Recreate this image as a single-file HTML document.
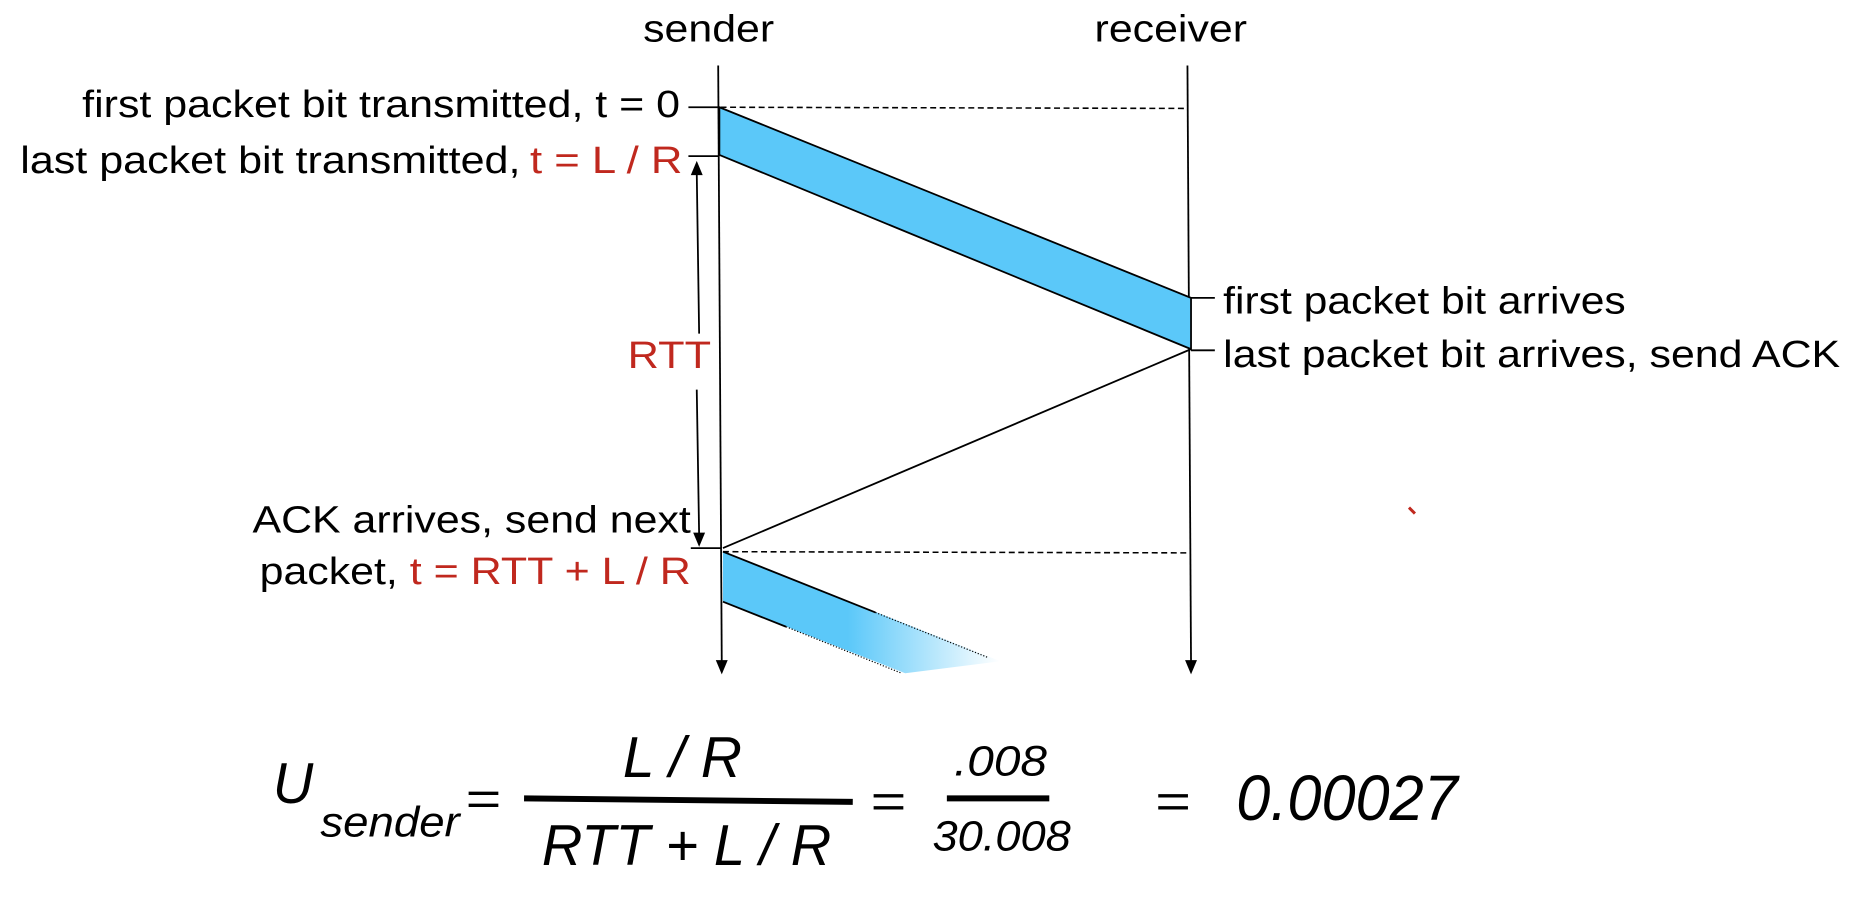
<!DOCTYPE html>
<html><head><meta charset="utf-8"><style>
html,body{margin:0;padding:0;background:#fff;}
svg{display:block;font-family:"Liberation Sans",Arial,sans-serif;}
</style></head><body>
<svg width="1858" height="902" viewBox="0 0 1560 757" preserveAspectRatio="none">
<defs>
<linearGradient id="fade" x1="607" y1="0" x2="840" y2="0" gradientUnits="userSpaceOnUse"><stop offset="0" stop-color="#5bc8f9"/><stop offset="0.45" stop-color="#5bc8f9"/><stop offset="1" stop-color="#fff"/></linearGradient>
</defs>
<text x="540" y="35" font-size="32" textLength="110" lengthAdjust="spacingAndGlyphs">sender</text>
<text x="919" y="35" font-size="32" textLength="128" lengthAdjust="spacingAndGlyphs">receiver</text>
<line x1="603" y1="55" x2="606" y2="556" stroke="#000" stroke-width="1.5"/>
<polygon points="601,554 611,554 606,566" fill="#000"/>
<line x1="997" y1="55" x2="1000" y2="556" stroke="#000" stroke-width="1.5"/>
<polygon points="995,554 1005,554 1000,566" fill="#000"/>
<line x1="605" y1="90" x2="995" y2="91" stroke="#000" stroke-width="1.3" stroke-dasharray="5,3"/>
<line x1="607" y1="463" x2="997" y2="464" stroke="#000" stroke-width="1.3" stroke-dasharray="5,3"/>
<polygon points="604,90 1000,250 1000,293 604,130" fill="#5bc8f9" stroke="#000" stroke-width="1.5"/>
<line x1="1000" y1="293" x2="607" y2="460" stroke="#000" stroke-width="1.5"/>
<polygon points="607,463 840,555 760,565 607,505" fill="url(#fade)"/>
<line x1="607" y1="463" x2="735" y2="514" stroke="#000" stroke-width="1.5"/>
<line x1="735" y1="514" x2="830" y2="552" stroke="#000" stroke-width="1" stroke-dasharray="1,1.5"/>
<line x1="607" y1="505" x2="660" y2="526" stroke="#000" stroke-width="1.5"/>
<line x1="660" y1="526" x2="757" y2="565" stroke="#000" stroke-width="1" stroke-dasharray="1,1.5"/>
<line x1="578" y1="90" x2="603" y2="90" stroke="#000" stroke-width="1.5"/>
<line x1="578" y1="131" x2="603" y2="131" stroke="#000" stroke-width="1.5"/>
<line x1="580" y1="460" x2="605" y2="460" stroke="#000" stroke-width="1.5"/>
<line x1="1000" y1="250" x2="1020" y2="250" stroke="#000" stroke-width="1.5"/>
<line x1="1000" y1="294" x2="1020" y2="294" stroke="#000" stroke-width="1.5"/>
<line x1="587" y1="280" x2="585" y2="145" stroke="#000" stroke-width="1.5"/>
<polygon points="580,147 590,147 585,135" fill="#000"/>
<line x1="585" y1="327" x2="587" y2="449" stroke="#000" stroke-width="1.5"/>
<polygon points="582,447 592,447 587,459" fill="#000"/>
<text x="527" y="309" font-size="32" fill="#c0281e" textLength="70" lengthAdjust="spacingAndGlyphs">RTT</text>
<text x="69" y="98" font-size="32" textLength="502" lengthAdjust="spacingAndGlyphs">first packet bit transmitted, t = 0</text>
<text x="17" y="145" font-size="32"><tspan textLength="420" lengthAdjust="spacingAndGlyphs">last packet bit transmitted,</tspan><tspan x="445" fill="#c0281e" textLength="128" lengthAdjust="spacingAndGlyphs">t = L / R</tspan></text>
<text x="212" y="447" font-size="32" textLength="368" lengthAdjust="spacingAndGlyphs">ACK arrives, send next</text>
<text x="218" y="490" font-size="32"><tspan textLength="116" lengthAdjust="spacingAndGlyphs">packet,</tspan><tspan x="344" fill="#c0281e" textLength="236" lengthAdjust="spacingAndGlyphs">t = RTT + L / R</tspan></text>
<text x="1027" y="263" font-size="32" textLength="338" lengthAdjust="spacingAndGlyphs">first packet bit arrives</text>
<text x="1027" y="308" font-size="32" textLength="518" lengthAdjust="spacingAndGlyphs">last packet bit arrives, send ACK</text>
<path d="M1183,426 L1188,431" stroke="#c0281e" stroke-width="2.5"/>
<g font-style="italic">
<text x="229" y="674" font-size="48" textLength="34" lengthAdjust="spacingAndGlyphs">U</text>
<text x="269" y="702" font-size="36" textLength="117" lengthAdjust="spacingAndGlyphs">sender</text>
<text x="391" y="684" font-size="40" font-style="normal" textLength="30" lengthAdjust="spacingAndGlyphs">=</text>
<line x1="440" y1="670" x2="716" y2="673" stroke="#000" stroke-width="5"/>
<text x="523" y="652" font-size="48" textLength="100" lengthAdjust="spacingAndGlyphs">L / R</text>
<text x="455" y="726" font-size="48" textLength="243" lengthAdjust="spacingAndGlyphs">RTT + L / R</text>
<text x="731" y="686" font-size="40" font-style="normal" textLength="30" lengthAdjust="spacingAndGlyphs">=</text>
<text x="801" y="651" font-size="36" textLength="78" lengthAdjust="spacingAndGlyphs">.008</text>
<line x1="795" y1="670" x2="881" y2="670" stroke="#000" stroke-width="5"/>
<text x="783" y="714" font-size="36" textLength="116" lengthAdjust="spacingAndGlyphs">30.008</text>
<text x="970" y="686" font-size="40" font-style="normal" textLength="30" lengthAdjust="spacingAndGlyphs">=</text>
<text x="1038" y="688" font-size="54" textLength="186" lengthAdjust="spacingAndGlyphs">0.00027</text>
</g>
</svg>
</body></html>
